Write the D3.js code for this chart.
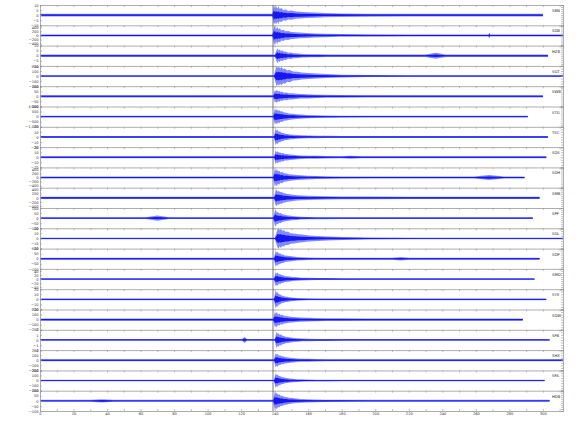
<!DOCTYPE html>
<html>
<head>
<meta charset="utf-8">
<script src="https://cdn.jsdelivr.net/npm/d3@7"></script>
<style>
  body { margin: 0; background: #fff; }
  text { font-family: "DejaVu Sans", sans-serif; }
</style>
</head>
<body>
<div id="chart"></div>
<script>
// Record section: one panel per station, envelope of each trace

var stations = ["SBN", "SDB", "HZB", "SGT", "SWB", "STG", "TSC", "SDS", "SDH", "SMB",
                "SPF", "SGL", "SDP", "SMD", "SYX", "SDW", "SFB", "SHX", "SFA", "HDB"];
var yMax   = [10, 500, 10, 200, 100, 1000, 20, 20, 500, 500, 100, 20, 100, 50, 20, 200, 2, 200, 200, 100];
var onset  = [139, 139, 140.5, 140, 139.5, 139.5, 140, 140, 139.5, 140, 139.5, 140.5, 140, 140, 140, 139.5, 140.5, 140, 140, 139.5];
var endT   = [300, 312, 303, 312, 300, 291, 303, 302, 289, 298, 294, 312, 298, 295, 302, 288, 304, 312, 301, 304];
var noise  = [0.13, 0.1, 0.12, 0.08, 0.11, 0.08, 0.1, 0.09, 0.1, 0.12, 0.08, 0.08, 0.09, 0.08, 0.08, 0.12, 0.09, 0.1, 0.08, 0.1];

// seconds after onset, envelope amplitude (fraction of panel half height)
var envDt = [0, 0.6, 1.2, 1.8, 2.5, 3.2, 4, 5, 6, 7.5, 9, 11, 13.5, 16, 20, 25, 31, 40, 55, 80];
var envAmp = [
  [0.5, 0.95, 0.7, 0.9, 0.65, 0.85, 0.6, 0.7, 0.5, 0.55, 0.42, 0.45, 0.35, 0.33, 0.28, 0.25, 0.2, 0.17, 0.15, 0.13],
  [0.4, 0.8, 0.95, 0.6, 0.85, 0.6, 0.7, 0.5, 0.55, 0.42, 0.45, 0.35, 0.32, 0.28, 0.25, 0.2, 0.17, 0.14, 0.12, 0.1],
  [0.3, 0.55, 0.75, 0.5, 0.65, 0.45, 0.55, 0.4, 0.42, 0.3, 0.32, 0.24, 0.22, 0.18, 0.16, 0.14, 0.13, 0.12, 0.12, 0.12],
  [0.35, 0.7, 1.0, 0.8, 0.95, 0.75, 0.9, 0.7, 0.75, 0.55, 0.6, 0.45, 0.42, 0.35, 0.3, 0.24, 0.19, 0.14, 0.1, 0.08],
  [0.3, 0.6, 0.5, 0.65, 0.45, 0.55, 0.42, 0.45, 0.35, 0.38, 0.3, 0.3, 0.25, 0.22, 0.2, 0.17, 0.15, 0.13, 0.11, 0.11],
  [0.35, 0.8, 0.6, 0.75, 0.55, 0.65, 0.5, 0.52, 0.4, 0.38, 0.32, 0.28, 0.24, 0.2, 0.16, 0.13, 0.11, 0.1, 0.09, 0.08],
  [0.4, 0.85, 0.6, 0.7, 0.5, 0.55, 0.42, 0.4, 0.33, 0.3, 0.25, 0.22, 0.18, 0.16, 0.14, 0.12, 0.11, 0.1, 0.1, 0.1],
  [0.3, 0.7, 0.5, 0.6, 0.45, 0.5, 0.4, 0.42, 0.33, 0.32, 0.27, 0.25, 0.2, 0.18, 0.16, 0.14, 0.12, 0.11, 0.1, 0.09],
  [0.4, 0.9, 0.65, 0.85, 0.6, 0.7, 0.5, 0.55, 0.42, 0.4, 0.33, 0.3, 0.25, 0.22, 0.18, 0.15, 0.13, 0.11, 0.1, 0.1],
  [0.35, 0.75, 0.8, 0.6, 0.7, 0.55, 0.6, 0.48, 0.45, 0.38, 0.35, 0.3, 0.26, 0.23, 0.2, 0.18, 0.16, 0.14, 0.13, 0.12],
  [0.35, 0.7, 0.8, 0.55, 0.6, 0.45, 0.5, 0.38, 0.35, 0.28, 0.26, 0.2, 0.17, 0.14, 0.12, 0.1, 0.1, 0.09, 0.09, 0.08],
  [0.3, 0.6, 0.9, 1.0, 0.8, 0.95, 0.75, 0.8, 0.65, 0.65, 0.52, 0.5, 0.42, 0.38, 0.3, 0.25, 0.2, 0.15, 0.1, 0.08],
  [0.4, 0.8, 0.6, 0.7, 0.5, 0.55, 0.42, 0.42, 0.33, 0.3, 0.26, 0.22, 0.18, 0.15, 0.13, 0.11, 0.1, 0.09, 0.09, 0.09],
  [0.35, 0.7, 0.55, 0.65, 0.45, 0.5, 0.4, 0.38, 0.3, 0.28, 0.24, 0.2, 0.17, 0.14, 0.12, 0.1, 0.1, 0.09, 0.08, 0.08],
  [0.45, 0.9, 0.65, 0.7, 0.5, 0.5, 0.38, 0.36, 0.28, 0.25, 0.2, 0.17, 0.14, 0.12, 0.1, 0.09, 0.09, 0.08, 0.08, 0.08],
  [0.35, 0.75, 0.6, 0.75, 0.5, 0.6, 0.45, 0.48, 0.38, 0.35, 0.3, 0.27, 0.23, 0.2, 0.18, 0.16, 0.14, 0.13, 0.12, 0.12],
  [0.4, 0.8, 0.6, 0.65, 0.5, 0.55, 0.42, 0.4, 0.32, 0.3, 0.25, 0.2, 0.17, 0.14, 0.12, 0.1, 0.1, 0.09, 0.09, 0.09],
  [0.35, 0.7, 0.55, 0.65, 0.45, 0.5, 0.4, 0.4, 0.32, 0.3, 0.25, 0.22, 0.18, 0.16, 0.14, 0.12, 0.11, 0.1, 0.1, 0.1],
  [0.35, 0.7, 0.55, 0.6, 0.45, 0.45, 0.36, 0.35, 0.27, 0.25, 0.2, 0.17, 0.14, 0.12, 0.1, 0.09, 0.09, 0.08, 0.08, 0.08],
  [0.45, 0.9, 0.7, 0.8, 0.6, 0.65, 0.5, 0.5, 0.4, 0.38, 0.3, 0.27, 0.22, 0.19, 0.16, 0.14, 0.12, 0.11, 0.1, 0.1]
];

// isolated bursts outside the main arrival
var burstStation = [1, 2, 7, 8, 10, 12, 16, 19];
var burstTime    = [268, 236, 185, 268, 70, 215, 122, 37];
var burstAmp     = [0.3, 0.3, 0.15, 0.25, 0.25, 0.17, 0.3, 0.17];
var burstWidth   = [1, 12, 14, 18, 14, 10, 3, 14];

var pickTime = 139;
var xTicks = d3.range(0, 313, 10);

var width = 580, height = 440,
    mLeft = 40, mRight = 563, mTop = 5, mBottom = 411;

var svg = d3.select("#chart").append("svg")
  .attr("width", width)
  .attr("height", height);

var x = d3.scaleLinear().domain([0, 312]).range([mLeft, mRight]);
var band = d3.scaleBand().domain(stations).range([mTop, mBottom]);

svg.append("clipPath").attr("id", "plot")
  .append("rect").attr("x", mLeft).attr("y", 0).attr("width", mRight - mLeft).attr("height", height);

stations.forEach(function(name, i) {
  var y0 = band(name), h = band.bandwidth();
  var y = d3.scaleLinear().domain([-yMax[i], yMax[i]]).range([y0 + h, y0]);

  // envelope points for this station
  var pts = [[0, noise[i]], [onset[i] - 0.4, noise[i]]];
  envDt.forEach(function(dt, k) { pts.push([onset[i] + dt, envAmp[i][k]]); });
  burstStation.forEach(function(s, b) {
    if (s !== i) return;
    var w = burstWidth[b] / 2;
    pts.push([burstTime[b] - w, noise[i]], [burstTime[b], burstAmp[b]], [burstTime[b] + w, noise[i]]);
  });
  pts.push([endT[i], noise[i]]);
  pts.sort(function(a, b) { return a[0] - b[0]; });
  pts = pts.filter(function(p) { return p[0] <= endT[i]; });

  var g = svg.append("g").attr("clip-path", "url(#plot)");

  var outer = d3.area()
    .x(function(d) { return x(d[0]); })
    .y0(function(d) { return y(-d[1] * yMax[i]); })
    .y1(function(d) { return y(d[1] * yMax[i]); });
  var inner = d3.area()
    .x(function(d) { return x(d[0]); })
    .y0(function(d) { return y(-d[1] * 0.45 * yMax[i]); })
    .y1(function(d) { return y(d[1] * 0.45 * yMax[i]); });

  g.append("path").datum(pts).attr("d", outer)
    .attr("fill", "#3f4bff").attr("fill-opacity", 0.65);
  g.append("path").datum(pts).attr("d", inner)
    .attr("fill", "#0a0af0").attr("fill-opacity", 0.9);
  g.append("line")
    .attr("x1", x(0)).attr("x2", x(endT[i]))
    .attr("y1", y(0)).attr("y2", y(0))
    .attr("stroke", "#1a1aee").attr("stroke-width", 0.6);

  // panel frame: top edge, left and right y axes
  svg.append("g").attr("class", "ax")
    .attr("transform", "translate(0," + y0 + ")")
    .call(d3.axisBottom(x).tickValues(xTicks).tickSize(2).tickFormat(""));

  svg.append("g").attr("class", "ax")
    .attr("transform", "translate(" + mLeft + ",0)")
    .call(d3.axisLeft(y).ticks(4).tickSize(-2).tickPadding(1.5));

  svg.append("g").attr("class", "ax")
    .attr("transform", "translate(" + mRight + ",0)")
    .call(d3.axisRight(y).ticks(8).tickSize(-2).tickFormat(""));

  svg.append("text")
    .attr("x", 552).attr("y", y0 + 7)
    .attr("font-size", 3.8)
    .attr("fill", "#222")
    .text(name);
});

// bottom time axis
svg.append("g").attr("class", "ax bottom")
  .attr("transform", "translate(0," + mBottom + ")")
  .call(d3.axisBottom(x).tickValues(xTicks).tickSizeInner(-2).tickSizeOuter(0).tickPadding(1.5)
    .tickFormat(function(d) { return d % 20 === 0 ? d : ""; }));

// pick marker
svg.append("line")
  .attr("x1", x(pickTime)).attr("x2", x(pickTime))
  .attr("y1", mTop).attr("y2", mBottom)
  .attr("stroke", "#444").attr("stroke-width", 0.7);

svg.selectAll(".ax path.domain").attr("stroke", "#999").attr("stroke-width", 0.8);
svg.selectAll(".ax line").attr("stroke", "#999").attr("stroke-width", 0.6);
svg.selectAll(".ax text").attr("font-size", 3.6).attr("fill", "#333");
</script>
</body>
</html>
